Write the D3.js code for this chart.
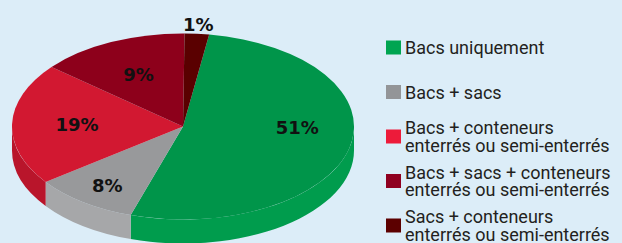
<!DOCTYPE html>
<html>
<head>
<meta charset="utf-8">
<script src="https://cdn.jsdelivr.net/npm/d3@7"></script>
<style>
  body { margin: 0; background: #dcedf8; }
  svg { display: block; }
</style>
</head>
<body>
<script>
// slices, in the order of the legend (drawn clockwise from the green one)
const categories = [
  "Bacs uniquement",
  "Bacs + sacs",
  "Bacs + conteneurs enterrés ou semi-enterrés",
  "Bacs + sacs + conteneurs enterrés ou semi-enterrés",
  "Sacs + conteneurs enterrés ou semi-enterrés"
];
// legend text, split in lines
const legendLines = [
  ["Bacs uniquement"],
  ["Bacs + sacs"],
  ["Bacs + conteneurs", "enterrés ou semi-enterrés"],
  ["Bacs + sacs + conteneurs", "enterrés ou semi-enterrés"],
  ["Sacs + conteneurs", "enterrés ou semi-enterrés"]
];
// share of the circle each slice takes in the picture
const shares = [52.5, 9.9, 21.2, 14.1, 2.3];
// printed labels
const labels = ["51%", "8%", "19%", "9%", "1%"];

const pieColors = ["#00954a", "#98999b", "#d21831", "#8d001b", "#5a0000"];
const legendColors = ["#00a551", "#939598", "#ed1b3a", "#8f0020", "#5c0000"];

const width = 622, height = 243;
const cx = 183, cy = 126.5, rx = 171, ry = 93, depth = 24;

const svg = d3.select("body")
  .append("svg")
  .attr("width", width)
  .attr("height", height)
  .style("background-color", "#dcedf8");

// pie angles, starting a little right of 12 o'clock
const start = 8.8 * Math.PI / 180;
const pie = d3.pie().sort(null).value(d => d)
  .startAngle(start).endAngle(start + 2 * Math.PI);
const arcs = pie(shares);

// point on the ellipse for angle t (0 = top, clockwise)
const pt = (t, dy = 0) => [cx + rx * Math.sin(t), cy - ry * Math.cos(t) + dy];

// side walls: only the front half (PI/2 .. 3PI/2) is visible
const sideG = svg.append("g");
arcs.forEach((a, i) => {
  [0, 2 * Math.PI].forEach(off => {
    const lo = Math.max(a.startAngle, Math.PI / 2 + off);
    const hi = Math.min(a.endAngle, 3 * Math.PI / 2 + off);
    if (hi <= lo) return;
    const p0 = pt(lo), p1 = pt(hi), q0 = pt(lo, depth), q1 = pt(hi, depth);
    const side = d3.color(pieColors[i]);
    const col = i === 1 ? side.brighter(0.25) : (i === 0 ? side.brighter(0.12) : side.darker(0.35));
    sideG.append("path")
      .attr("d", `M${p0}A${rx},${ry} 0 0 1 ${p1}L${q1}A${rx},${ry} 0 0 0 ${q0}Z`)
      .attr("fill", col);
  });
});

// top faces
const topG = svg.append("g");
topG.selectAll("path")
  .data(arcs)
  .enter()
  .append("path")
  .attr("d", a => {
    const large = a.endAngle - a.startAngle > Math.PI ? 1 : 0;
    return `M${cx},${cy}L${pt(a.startAngle)}A${rx},${ry} 0 ${large} 1 ${pt(a.endAngle)}Z`;
  })
  .attr("fill", (a, i) => pieColors[i]);

// labels (small slice outside, others inside, a few hand nudges)
const nudge = { 0: [11, -12], 1: [-14, 12] };
const labelPos = (a, i) => {
  const m = (a.startAngle + a.endAngle) / 2;
  const f = a.data < 5 ? 1.1 : 0.62;
  const n = nudge[i] || [0, 0];
  return [cx + rx * f * Math.sin(m) + n[0], cy - ry * f * Math.cos(m) + n[1]];
};
svg.append("g")
  .selectAll("text")
  .data(arcs)
  .enter()
  .append("text")
  .attr("x", (a, i) => labelPos(a, i)[0])
  .attr("y", (a, i) => labelPos(a, i)[1])
  .attr("dy", "0.36em")
  .attr("text-anchor", "middle")
  .style("font-family", "'DejaVu Sans', sans-serif")
  .style("font-weight", "bold")
  .style("font-size", "18px")
  .style("fill", "#111")
  .text((a, i) => labels[i]);

// legend
const yLeg = d3.scaleLinear().domain([0, 4]).range([47.5, 225.5]);
const leg = svg.append("g");
legendLines.forEach((lines, i) => {
  const c = yLeg(i);
  leg.append("rect")
    .attr("x", 386).attr("y", c - 7)
    .attr("width", 15).attr("height", 14)
    .attr("fill", legendColors[i]);
  const first = lines.length === 1 ? c + 6.5 : c - 2.25;
  lines.forEach((t, j) => {
    leg.append("text")
      .attr("x", 405)
      .attr("y", first + j * 17.5)
      .style("font-family", "Roboto, sans-serif")
      .style("font-size", "18px")
      .style("fill", "#231f20")
      .text(t);
  });
});
</script>
</body>
</html>
